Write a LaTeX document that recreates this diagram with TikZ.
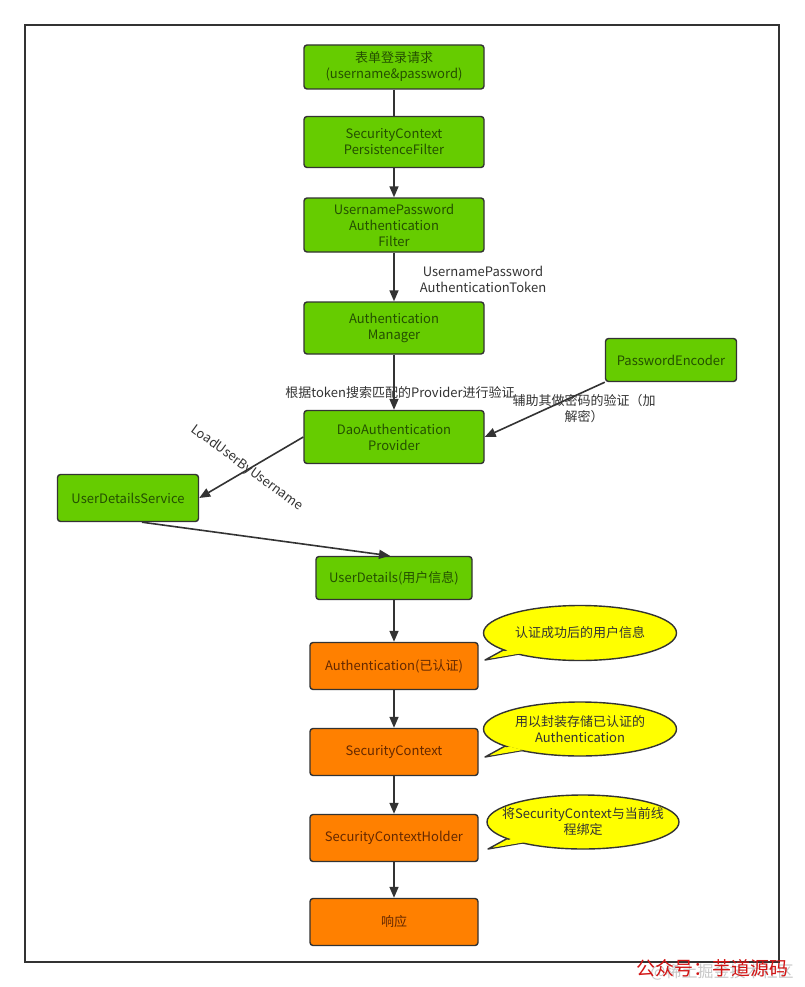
\documentclass[tikz,border=0pt]{standalone}
\usepackage{fontspec}
\setmainfont{Noto Sans CJK SC}
\usetikzlibrary{arrows.meta,shapes.geometric,calc}
\definecolor{gfill}{RGB}{102,204,0}
\definecolor{gtext}{RGB}{36,80,0}
\definecolor{ofill}{RGB}{255,128,0}
\definecolor{otext}{RGB}{100,40,0}
\definecolor{yfill}{RGB}{255,255,0}
\definecolor{edge}{RGB}{51,51,51}
\definecolor{wmred}{RGB}{210,20,20}
\definecolor{wmgray}{RGB}{200,200,200}
\tikzset{
  box/.style={draw=edge, line width=1.4pt, rounded corners=3pt, align=center,
    font=\fontsize{13}{16}\selectfont, inner sep=0pt},
  gbox/.style={box, fill=gfill, text=gtext},
  obox/.style={box, fill=ofill, text=otext},
  arr/.style={draw=edge, line width=1.6pt, -{Triangle[length=11pt,width=9pt]}},
  plain/.style={draw=edge, line width=1.6pt},
  lbl/.style={font=\fontsize{13}{16}\selectfont, text=edge, align=center, inner sep=0pt},
  bubshape/.style={draw=edge, line width=1.4pt, fill=yfill},
  bubtext/.style={font=\fontsize{13}{16}\selectfont, text=edge, align=center, inner sep=0pt}
}
\begin{document}
\begin{tikzpicture}[x=1pt,y=-1pt]
\useasboundingbox[fill=white] (0,0) rectangle (804,987);
\draw[edge, line width=1.2pt] (25,25) rectangle (779,962);

% green boxes
\node[gbox, minimum width=180pt, minimum height=44pt] (req) at (394,67) {表单登录请求\\(username\&password)};
\node[gbox, minimum width=180pt, minimum height=51pt] (scpf) at (394,142) {SecurityContext\\PersistenceFilter};
\node[gbox, minimum width=180pt, minimum height=54pt] (upaf) at (394,225) {UsernamePassword\\Authentication\\Filter};
\node[gbox, minimum width=180pt, minimum height=52pt] (am) at (394,328) {Authentication\\Manager};
\node[gbox, minimum width=131pt, minimum height=43pt] (pe) at (671,360) {PasswordEncoder};
\node[gbox, minimum width=180pt, minimum height=53pt] (dao) at (394,437) {DaoAuthentication\\Provider};
\node[gbox, minimum width=141pt, minimum height=47pt] (uds) at (128,498) {UserDetailsService};
\node[gbox, minimum width=156pt, minimum height=43pt] (udet) at (394,578) {UserDetails(用户信息)};

% orange boxes
\node[obox, minimum width=168pt, minimum height=47pt] (auth) at (394,666) {Authentication(已认证)};
\node[obox, minimum width=168pt, minimum height=47pt] (sc) at (394,752) {SecurityContext};
\node[obox, minimum width=168pt, minimum height=47pt] (sch) at (394,838) {SecurityContextHolder};
\node[obox, minimum width=168pt, minimum height=47pt] (resp) at (394,922) {响应};

% connectors
\draw[plain] (req) -- (scpf);
\draw[arr] (scpf) -- (upaf);
\draw[arr] (upaf) -- (am);
\draw[arr] (am) -- (dao);
\draw[arr] (pe.south west) -- (dao.east);
\draw[arr] (dao.west) -- (uds.east);
\draw[arr] ([xshift=14pt]uds.south) -- ([xshift=-4pt]udet.north);
\draw[arr] (udet) -- (auth);
\draw[arr] (auth) -- (sc);
\draw[arr] (sc) -- (sch);
\draw[arr] (sch) -- (resp);

% labels
\node[lbl] (l1) at (483,279) {UsernamePassword\\AuthenticationToken};
\node[lbl] (l2) at (400,393) {根据token搜索匹配的Provider进行验证};
\node[lbl] (l3) at (584,409) {辅助其做密码的验证（加\\解密）};
\node[lbl, rotate=-36] (l4) at (247,468) {LoadUserByUsername};

% callouts
\coordinate (t1) at (485,660);
\coordinate (t2) at (485,757);
\coordinate (t3) at (488,849);
\fill[yfill, draw=edge, line width=1.4pt, line join=round] (507,648) -- (t1) -- (525,653) -- cycle;
\path[bubshape] (580,633) ellipse [x radius=96.5, y radius=27.5];
\fill[yfill] (509,649.5) -- (490,658.5) -- (523,653) -- cycle;
\node[bubtext] (b1) at (580,633) {认证成功后的用户信息};

\fill[yfill, draw=edge, line width=1.4pt, line join=round] (507,745) -- (t2) -- (525,750) -- cycle;
\path[bubshape] (580,729) ellipse [x radius=96.5, y radius=27];
\fill[yfill] (509,746.5) -- (490,755.5) -- (523,750) -- cycle;
\node[bubtext] (b2) at (580,729) {用以封装存储已认证的\\Authentication};

\fill[yfill, draw=edge, line width=1.4pt, line join=round] (510,837) -- (t3) -- (528,842) -- cycle;
\path[bubshape] (583,822) ellipse [x radius=96, y radius=27];
\fill[yfill] (512,838.5) -- (493,847.5) -- (526,842) -- cycle;
\node[bubtext] (b3) at (583,822) {将SecurityContext与当前线\\程绑定};

% watermark
\node[font=\fontsize{16}{18}\selectfont, text=wmgray, inner sep=0pt] (wm2) at (722,972) {@稀土掘金技术社区};
\node[font=\fontsize{19}{21}\selectfont, text=wmred, inner sep=0pt] (wm1) at (712,968) {公众号：芋道源码};
\end{tikzpicture}
\end{document}
